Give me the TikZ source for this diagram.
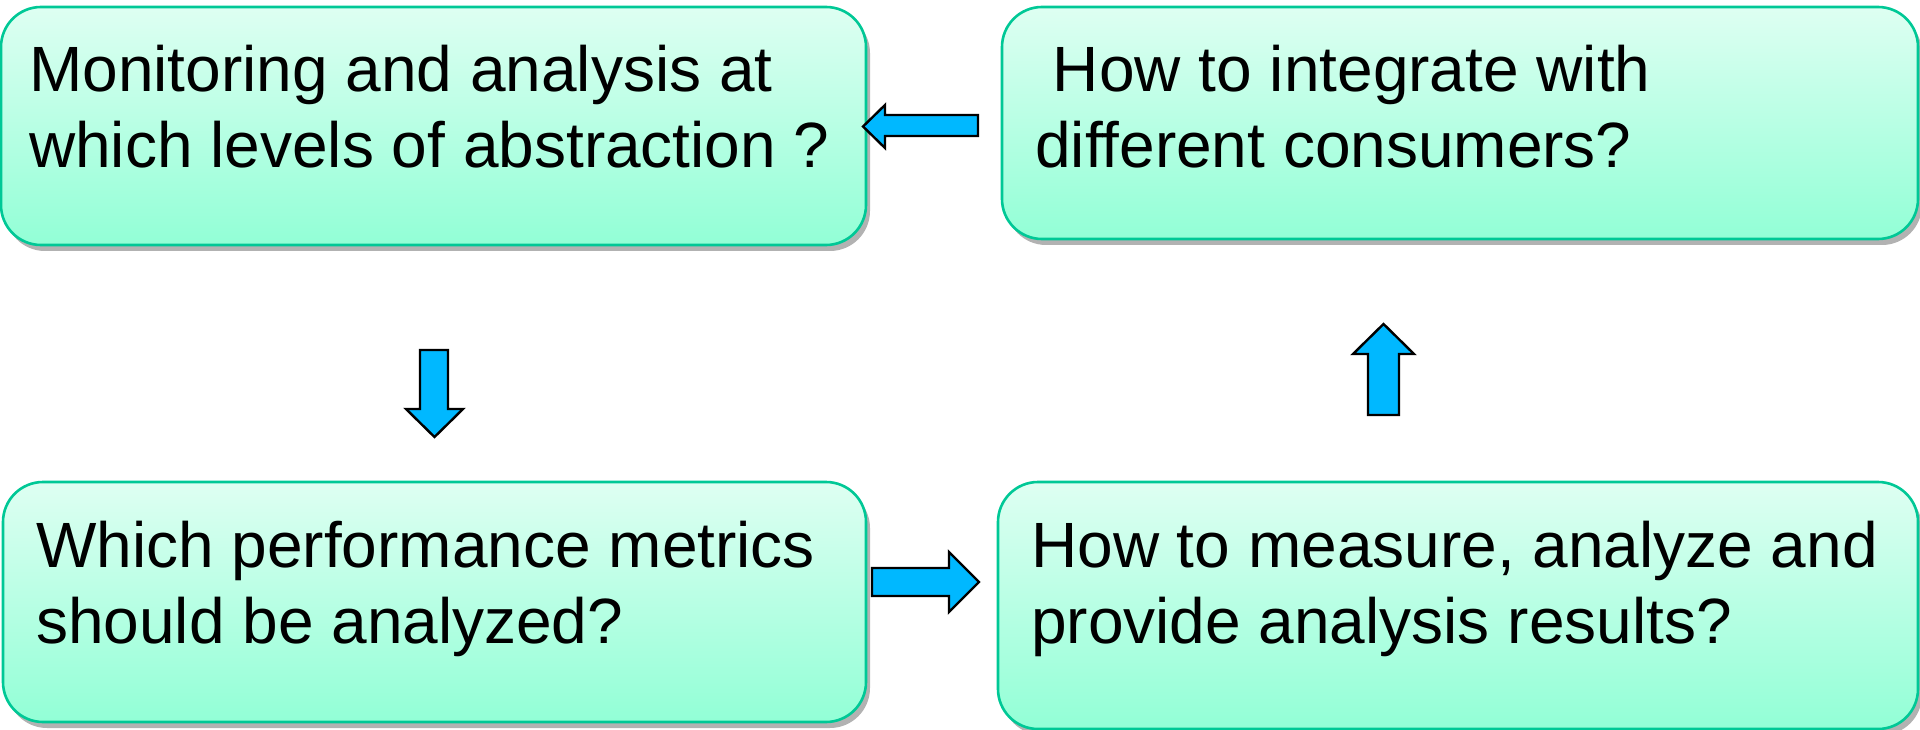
\documentclass[tikz,border=0pt]{standalone}
\usepackage{fontspec}
\setmainfont{Liberation Sans}
\usetikzlibrary{shadows}
\definecolor{boxtop}{RGB}{222,255,242}
\definecolor{boxbot}{RGB}{146,255,214}
\definecolor{boxline}{RGB}{0,200,150}
\definecolor{arrowfill}{RGB}{0,184,255}
\tikzset{
  qbox/.style={draw=boxline, line width=2.6pt, rounded corners=40pt,
    top color=boxtop, bottom color=boxbot, inner sep=0pt,
    drop shadow={shadow xshift=4pt, shadow yshift=-6pt, fill=black, opacity=0.3}},
  % anchored at the baseline of the last line
  qtext/.style={anchor=base west, align=left, inner sep=0pt,
    font=\fontsize{64}{76}\selectfont},
  blockarrow/.style={draw=black, line width=2.4pt, fill=arrowfill, line join=miter}
}
\begin{document}
\begin{tikzpicture}[x=1pt, y=-1pt]
  \useasboundingbox (0,0) rectangle (1920,730);
  % question boxes
  \node[qbox, minimum width=865pt, minimum height=238pt] (b1) at (433.5,126) {};
  \node[qbox, minimum width=916pt, minimum height=232pt] (b2) at (1460,123) {};
  \node[qbox, minimum width=863pt, minimum height=240pt] (b3) at (434.5,602) {};
  \node[qbox, minimum width=920pt, minimum height=247pt] (b4) at (1458,605.5) {};
  % question texts
  \node[qtext] (t1) at (29,168) {Monitoring and analysis at\\which levels of abstraction ?};
  \node[qtext] (t2) at (1035,168) {\ How to integrate with\\different consumers?};
  \node[qtext] (t3) at (36,643) {Which performance metrics\\should be analyzed?};
  \node[qtext] (t4) at (1031,643) {How to measure, analyze and\\provide analysis results?};
  % block arrows between the boxes
  \draw[blockarrow] (978,115) -- (885,115) -- (885,105) -- (863,126.5) -- (885,148)
    -- (885,136) -- (978,136) -- cycle;
  \draw[blockarrow] (420,350) -- (448,350) -- (448,409) -- (463,409) -- (434.5,437)
    -- (406,409) -- (420,409) -- cycle;
  \draw[blockarrow] (872,568) -- (949,568) -- (949,552) -- (979,582) -- (949,612)
    -- (949,596) -- (872,596) -- cycle;
  \draw[blockarrow] (1368,415) -- (1399,415) -- (1399,354) -- (1414,354) -- (1383.5,324)
    -- (1353,354) -- (1368,354) -- cycle;
\end{tikzpicture}
\end{document}
